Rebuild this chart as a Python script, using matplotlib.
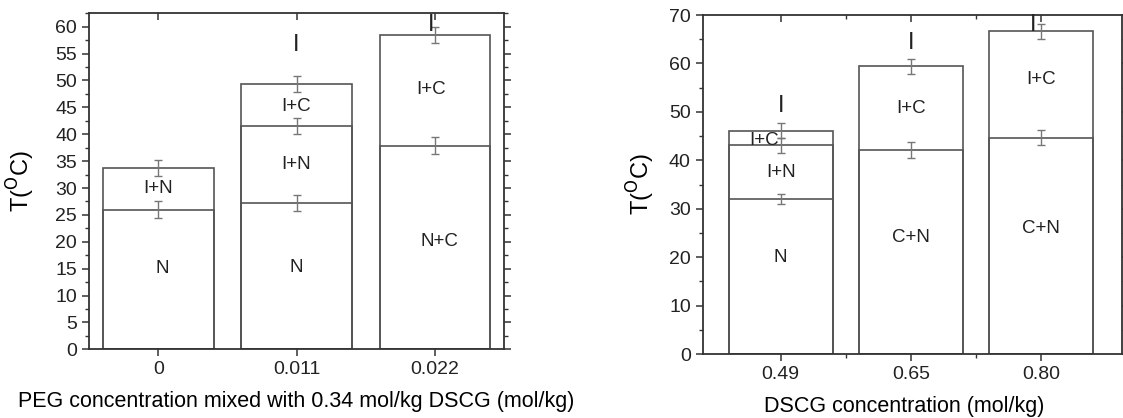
import matplotlib.pyplot as plt
from matplotlib.ticker import MultipleLocator, FixedLocator

plt.rcParams['font.family'] = ['Liberation Sans', 'DejaVu Sans']

# left panel: PEG concentration mixed with 0.34 mol/kg DSCG
peg_cats = ['0', '0.011', '0.022']
peg_bounds = [[26.0, 33.7], [27.2, 41.5, 49.3], [37.9, 58.4]]
peg_errs = [[1.5, 1.5], [1.5, 1.5, 1.5], [1.55, 1.5]]
# (temperature, phase label, small x shift in category units)
peg_labels = [
    [(30.0, 'I+N', 0.0), (15.0, 'N', 0.03)],
    [(56.6, 'I', 0.0), (45.2, 'I+C', 0.0), (34.4, 'I+N', 0.0), (15.3, 'N', 0.0)],
    [(60.3, 'I', -0.03), (48.4, 'I+C', -0.03), (20.0, 'N+C', 0.03)],
]

# right panel: DSCG concentration
dscg_cats = ['0.49', '0.65', '0.80']
dscg_bounds = [[32.0, 43.1, 46.1], [42.1, 59.4], [44.7, 66.6]]
dscg_errs = [[1.0, 1.5, 1.5], [1.6, 1.6], [1.6, 1.5]]
dscg_labels = [
    [(51.2, 'I', 0.0), (44.0, 'I+C', -0.13), (37.5, 'I+N', 0.0), (19.9, 'N', 0.0)],
    [(64.2, 'I', 0.0), (50.7, 'I+C', 0.0), (24.1, 'C+N', 0.0)],
    [(67.9, 'I', -0.06), (56.6, 'I+C', 0.0), (26.0, 'C+N', 0.0)],
]

EDGE = '#555555'
FRAME = '#333333'
ERR = '#777777'

fig = plt.figure(figsize=(11.23, 4.18), dpi=100)
ax1 = fig.add_axes([0.0793, 0.1643, 0.3695, 0.8039])
ax2 = fig.add_axes([0.6257, 0.1531, 0.3730, 0.8110])


def draw_panel(ax, cats, bounds, errs, labels):
    for i in range(len(cats)):
        for b, e in zip(bounds[i], errs[i]):
            ax.bar(i, b, width=0.8, fill=False, edgecolor=EDGE, linewidth=1.2)
            ax.errorbar(i, b, yerr=e, fmt='none', ecolor=ERR, elinewidth=1.0,
                        capsize=3, capthick=1.0)
        for y, txt, dx in labels[i]:
            fs = 17 if txt == 'I' else 13.5
            ax.text(i + dx, y, txt, ha='center', va='center', fontsize=fs, color='#222222')
    ax.set_xticks(range(len(cats)))
    ax.set_xticklabels(cats)
    for s in ax.spines.values():
        s.set_color(FRAME)
        s.set_linewidth(1.3)
    ax.tick_params(axis='both', which='both', colors=FRAME, labelcolor='#222222',
                   labelsize=14, direction='out', top=True, right=True)
    ax.tick_params(axis='both', which='major', length=5, width=1.1)
    ax.tick_params(axis='both', which='minor', length=3, width=1.0)


draw_panel(ax1, peg_cats, peg_bounds, peg_errs, peg_labels)
ax1.set_xlim(-0.5, 2.5)
ax1.set_ylim(0, 62.5)
ax1.yaxis.set_major_locator(MultipleLocator(5))
ax1.yaxis.set_minor_locator(MultipleLocator(2.5))
ax1.set_ylabel(r'T($^{\mathrm{O}}$C)', fontsize=17)
ax1.yaxis.set_label_coords(-0.125, 0.5)
ax1.set_xlabel('PEG concentration mixed with 0.34 mol/kg DSCG (mol/kg)', fontsize=15.5)
ax1.xaxis.set_label_coords(0.5, -0.125)

draw_panel(ax2, dscg_cats, dscg_bounds, dscg_errs, dscg_labels)
ax2.set_xlim(-0.6, 2.62)
ax2.set_ylim(0, 70)
ax2.yaxis.set_major_locator(MultipleLocator(10))
ax2.yaxis.set_minor_locator(MultipleLocator(5))
ax2.xaxis.set_minor_locator(FixedLocator([0.5, 1.5]))
ax2.set_ylabel(r'T($^{\mathrm{O}}$C)', fontsize=17)
ax2.yaxis.set_label_coords(-0.11, 0.5)
ax2.set_xlabel('DSCG concentration (mol/kg)', fontsize=15.5)
ax2.xaxis.set_label_coords(0.48, -0.125)

# ticks on top/right point inward
for ax in (ax1, ax2):
    for line in ax.xaxis.get_ticklines(minor=False)[1::2] + ax.xaxis.get_ticklines(minor=True)[1::2]:
        line.set_marker(3)
    for line in ax.yaxis.get_ticklines(minor=False)[1::2] + ax.yaxis.get_ticklines(minor=True)[1::2]:
        line.set_marker(1)

fig.savefig('out.png', dpi=100)
